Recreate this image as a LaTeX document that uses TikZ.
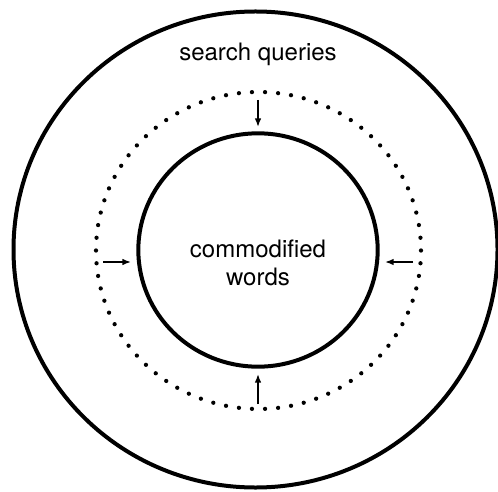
\documentclass[tikz,border=0pt]{standalone}
\usepackage{fontspec}
\setmainfont{TeX Gyre Heros}
\usetikzlibrary{arrows.meta,shapes.geometric}
\begin{document}
\begin{tikzpicture}[x=0.75pt,y=-0.75pt,
  ring/.style={line width=3pt},
  dotpt/.style={fill=black},
  push/.style={line width=1.2pt,-{Latex[length=6.5pt,width=5pt]}},
  lbl/.style={font=\fontsize{18pt}{21pt}\selectfont,inner sep=0pt,align=center}]
\useasboundingbox (0,0) rectangle (498,491);
% outer circle
\node[ring,draw,ellipse,minimum width=363pt,minimum height=357pt,inner sep=0pt] (outer) at (255.5,249.5) {};
% inner circle
\node[ring,draw,ellipse,minimum width=179.5pt,minimum height=175pt,inner sep=0pt] (inner) at (258,250) {};
% dotted ring
\foreach \i in {0,...,77}{
  \pgfmathsetmacro\ang{\i/78*360}
  \fill[dotpt] ({258.5+162.5*cos(\ang)},{250.5+158.5*sin(\ang)}) circle (1.6pt);
}
\node[lbl] (sq) at (258,54) {search queries};
\node[lbl] (cw) at (258,263) {commodified\\words};
% arrows
\coordinate (tA) at (258,100);
\coordinate (tB) at (258,127);
\coordinate (bA) at (258,404);
\coordinate (bB) at (258,374);
\coordinate (lA) at (103,262);
\coordinate (lB) at (131,262);
\coordinate (rA) at (413,262);
\coordinate (rB) at (385,262);
\draw[push] (tA) -- (tB);
\draw[push] (bA) -- (bB);
\draw[push] (lA) -- (lB);
\draw[push] (rA) -- (rB);
\end{tikzpicture}
\end{document}
